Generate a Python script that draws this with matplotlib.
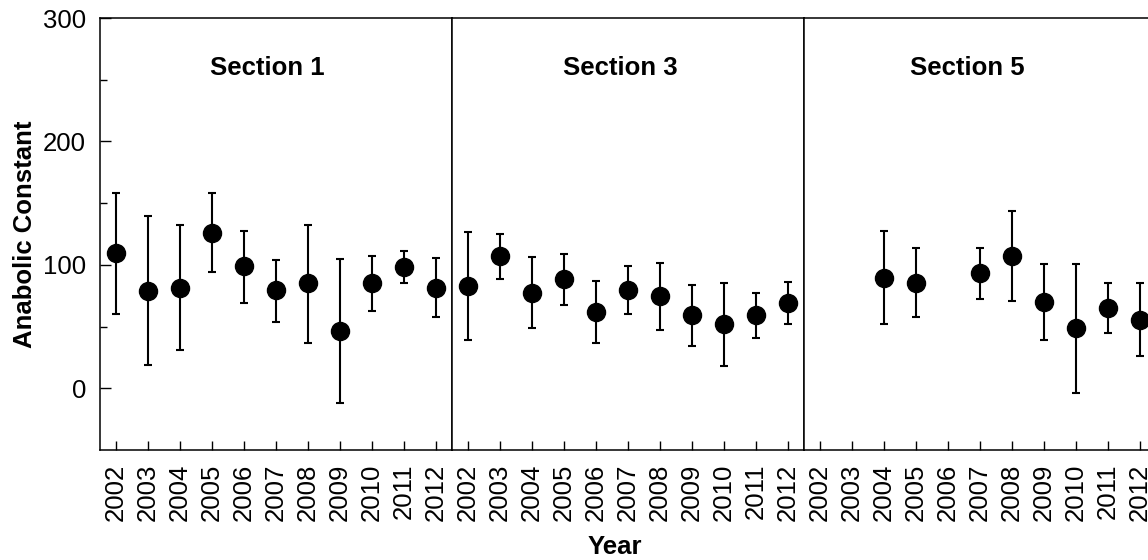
import matplotlib
matplotlib.use("Agg")
import matplotlib.pyplot as plt
import numpy as np

plt.rcParams['font.family'] = ['Liberation Sans', 'DejaVu Sans']
FS = 18.5

years = [2002, 2003, 2004, 2005, 2006, 2007, 2008, 2009, 2010, 2011, 2012]
sections = ["Section 1", "Section 3", "Section 5"]

# mean, lower and upper end of the error bar for each section
s1_mean = [110, 79, 81.5, 126, 99, 79.5, 85, 46.5, 85.5, 98.5, 81.5]
s1_lo = [60, 18.5, 31, 94, 69.5, 54, 37, -12, 63, 85.5, 57.5]
s1_hi = [158.5, 139.5, 132, 158, 127.5, 104, 132, 104.5, 107, 111, 105.5]

s3_mean = [83, 107, 77, 88.5, 62, 80, 74.5, 59.5, 52, 59.5, 69.5]
s3_lo = [39, 88.5, 48.5, 67.5, 36.5, 60.5, 47, 34, 18, 40.5, 52]
s3_hi = [127, 125, 106, 108.5, 87, 99, 101.5, 84, 85.5, 77, 86.5]

nan = np.nan
s5_mean = [nan, nan, 89.5, 85.5, nan, 93, 107.5, 70, 48.5, 65, 55.5]
s5_lo = [nan, nan, 52, 57.5, nan, 72.5, 70.5, 39, -3.5, 45, 26]
s5_hi = [nan, nan, 127.5, 113.5, nan, 114, 144, 101, 100.5, 85, 85]

series = [(s1_mean, s1_lo, s1_hi), (s3_mean, s3_lo, s3_hi), (s5_mean, s5_lo, s5_hi)]
title_x = [0.476, 0.477, 0.465]

W, H = 1148, 560
fig = plt.figure(figsize=[W / 100, H / 100], dpi=100)

# three panels side by side, the last one runs past the right edge
left, bottom, pw, ph = 100 / W, 1 - 450 / H, 352 / W, 432 / H
axes = []
for i, (m, lo, hi) in enumerate(series):
	ax = fig.add_axes([left + i * pw, bottom, pw, ph])
	m = np.array(m, dtype=float)
	err = [m - np.array(lo, dtype=float), np.array(hi, dtype=float) - m]
	ax.errorbar(years, m, yerr=err, fmt="o", color="k", ms=13,
				elinewidth=1.5, capsize=3, capthick=1.5, clip_on=False)
	ax.set_xlim(2001.5, 2012.5)
	ax.set_ylim(-50, 300)
	ax.set_xticks(years)
	ax.set_xticklabels([str(y) for y in years], rotation=90, fontsize=FS)
	ax.tick_params(axis="x", direction="in", length=6.5, width=1, pad=10)
	for s in ax.spines.values():
		s.set_linewidth(1.1)
	ax.text(title_x[i], 0.884, sections[i], transform=ax.transAxes,
			ha="center", va="center", fontsize=FS, fontweight="bold")
	if i == 0:
		ax.set_yticks([0, 100, 200, 300])
		ax.set_yticks([50, 150, 250], minor=True)
		ax.tick_params(axis="y", which="major", direction="in", length=8, width=1,
					   pad=10, labelsize=FS)
		ax.tick_params(axis="y", which="minor", direction="in", length=5, width=1)
		ax.set_ylabel("Anabolic Constant", fontsize=FS, fontweight="bold", labelpad=4)
	else:
		ax.set_yticks([])
	axes.append(ax)

fig.text(615 / W, 1 - 547 / H, "Year", ha="center", va="center",
		 fontsize=FS, fontweight="bold")

fig.savefig("out.png", dpi=100)
